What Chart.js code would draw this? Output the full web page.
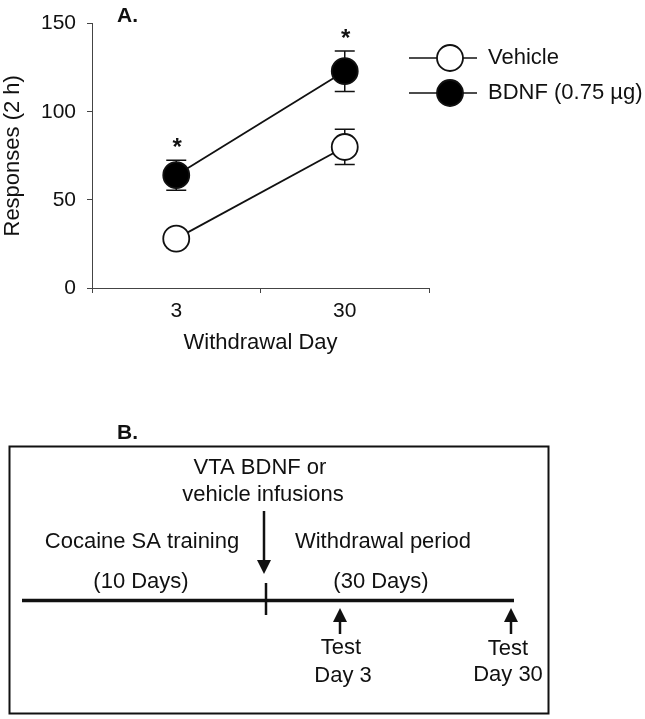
<!DOCTYPE html>
<html><head><meta charset="utf-8">
<script src="https://cdn.jsdelivr.net/npm/chart.js@4"></script>
<style>html,body{margin:0;padding:0;background:#fff}canvas{display:block}</style>
</head><body>
<canvas id="c" width="645" height="719"></canvas>
<script>
// ---- data ----
const days = ['3', '30'];
const vehicle = [28, 80];
const vehicleErr = [5, 10];
const bdnf = [64, 123];
const bdnfErr = [8.5, 11.5];
const significant = [true, true];
const yTicks = [0, 50, 100, 150];
const seriesNames = ['Vehicle', 'BDNF (0.75 \u00b5g)'];

const FONT = "'Liberation Sans', Arial, Helvetica, sans-serif";
const INK = '#111';

const errorBars = {
  id: 'errorBars',
  beforeDatasetsDraw(chart) {
    const ctx = chart.ctx, y = chart.scales.y;
    ctx.save();
    ctx.strokeStyle = INK; ctx.lineWidth = 1.5;
    chart.data.datasets.forEach((ds, di) => {
      const meta = chart.getDatasetMeta(di);
      meta.data.forEach((pt, i) => {
        const v = ds.data[i], e = ds.errors[i];
        const yt = y.getPixelForValue(v + e), yb = y.getPixelForValue(v - e);
        ctx.beginPath();
        ctx.moveTo(pt.x, yt); ctx.lineTo(pt.x, yb);
        ctx.moveTo(pt.x - 10, yt); ctx.lineTo(pt.x + 10, yt);
        ctx.moveTo(pt.x - 10, yb); ctx.lineTo(pt.x + 10, yb);
        ctx.stroke();
      });
    });
    ctx.restore();
  }
};

const annotations = {
  id: 'annotations',
  afterDraw(chart) {
    const ctx = chart.ctx, y = chart.scales.y;
    ctx.save();
    ctx.fillStyle = INK;
    // significance stars above BDNF error bars
    const meta = chart.getDatasetMeta(1);
    ctx.font = 'bold 24px ' + FONT;
    ctx.textAlign = 'center'; ctx.textBaseline = 'middle';
    significant.forEach((s, i) => {
      if (!s) return;
      const yy = y.getPixelForValue(bdnf[i] + bdnfErr[i]) - 12;
      ctx.fillText('*', meta.data[i].x + 1, yy);
    });
    // panel label
    ctx.font = 'bold 21px ' + FONT;
    ctx.textAlign = 'left';
    ctx.fillText('A.', 117, 16);

    // custom legend
    const legY = [58, 93];
    chart.data.datasets.forEach((ds, di) => {
      const ly = legY[di];
      ctx.strokeStyle = INK; ctx.lineWidth = 1.5;
      ctx.beginPath(); ctx.moveTo(409, ly); ctx.lineTo(477, ly); ctx.stroke();
      ctx.beginPath(); ctx.arc(450, ly, 13, 0, Math.PI * 2);
      ctx.fillStyle = ds.pointBackgroundColor; ctx.fill();
      ctx.lineWidth = ds.pointBorderWidth; ctx.strokeStyle = INK; ctx.stroke();
      ctx.fillStyle = INK;
      ctx.font = '22px ' + FONT; ctx.textAlign = 'left'; ctx.textBaseline = 'middle';
      ctx.fillText(ds.label, 488, ly);
    });

    // ---- Panel B: timeline diagram ----
    ctx.font = 'bold 21px ' + FONT; ctx.textAlign = 'left';
    ctx.fillText('B.', 117, 433);
    ctx.strokeStyle = INK; ctx.lineWidth = 2;
    ctx.strokeRect(9.5, 446.5, 539, 267);
    // timeline
    ctx.lineWidth = 3.5;
    ctx.beginPath(); ctx.moveTo(22, 600.5); ctx.lineTo(514, 600.5); ctx.stroke();
    ctx.lineWidth = 2.5;
    ctx.beginPath(); ctx.moveTo(266, 583); ctx.lineTo(266, 615); ctx.stroke();
    function arrow(x, y0, y1) {
      const dir = y1 > y0 ? 1 : -1;
      ctx.lineWidth = 2.5;
      ctx.beginPath(); ctx.moveTo(x, y0); ctx.lineTo(x, y1 - dir * 12); ctx.stroke();
      ctx.beginPath();
      ctx.moveTo(x, y1); ctx.lineTo(x - 7, y1 - dir * 14); ctx.lineTo(x + 7, y1 - dir * 14);
      ctx.closePath(); ctx.fillStyle = INK; ctx.fill();
    }
    arrow(264, 511, 574);
    arrow(340, 634, 608);
    arrow(511, 634, 608);
    ctx.fillStyle = INK;
    ctx.font = '22px ' + FONT; ctx.textAlign = 'center'; ctx.textBaseline = 'middle';
    ctx.fillText('VTA BDNF or', 260, 468);
    ctx.fillText('vehicle infusions', 263, 495);
    ctx.fillText('Cocaine SA training', 142, 542);
    ctx.fillText('Withdrawal period', 383, 542);
    ctx.fillText('(10 Days)', 141, 582);
    ctx.fillText('(30 Days)', 381, 582);
    ctx.fillText('Test', 341, 648);
    ctx.fillText('Day 3', 343, 676);
    ctx.fillText('Test', 508, 649);
    ctx.fillText('Day 30', 508, 675);
    ctx.restore();
  }
};

new Chart(document.getElementById('c'), {
  type: 'line',
  data: {
    labels: days,
    datasets: [
      { label: seriesNames[0], data: vehicle, errors: vehicleErr,
        borderColor: INK, borderWidth: 1.8, pointRadius: 13, pointHoverRadius: 13,
        pointBackgroundColor: '#fff', pointBorderColor: INK, pointBorderWidth: 1.8,
        tension: 0, clip: false },
      { label: seriesNames[1], data: bdnf, errors: bdnfErr,
        borderColor: INK, borderWidth: 1.8, pointRadius: 13, pointHoverRadius: 13,
        pointBackgroundColor: '#000', pointBorderColor: INK, pointBorderWidth: 1.8,
        tension: 0, clip: false }
    ]
  },
  options: {
    responsive: false, animation: false, devicePixelRatio: 1,
    events: [],
    layout: { padding: { left: 0, top: 16, right: 216, bottom: 363 } },
    plugins: { legend: { display: false }, tooltip: { enabled: false } },
    scales: {
      x: {
        type: 'category', offset: true,
        grid: { offset: true, drawOnChartArea: false, drawTicks: true, tickLength: 5, color: '#444' },
        border: { display: true, color: '#444', width: 1 },
        ticks: { color: INK, font: { family: FONT, size: 21 }, padding: 6 },
        title: { display: true, text: 'Withdrawal Day', color: INK, font: { family: FONT, size: 22 }, padding: 0 },
        afterFit(s) { s.height = 68; }
      },
      y: {
        min: 0, max: 150,
        afterBuildTicks(s) { s.ticks = yTicks.map(v => ({ value: v })); },
        grid: { drawOnChartArea: false, drawTicks: true, tickLength: 5, color: '#444' },
        border: { display: true, color: '#444', width: 1 },
        ticks: { color: INK, font: { family: FONT, size: 21 }, padding: 11 },
        title: { display: true, text: 'Responses (2 h)', color: INK, font: { family: FONT, size: 22 }, padding: 0 },
        afterFit(s) { s.width = 92; }
      }
    }
  },
  plugins: [errorBars, annotations]
});
</script>
</body></html>
